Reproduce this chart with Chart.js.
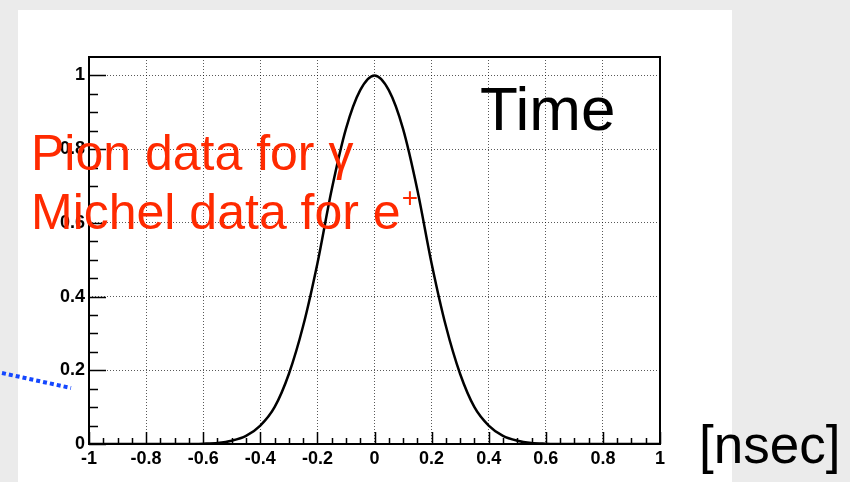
<!DOCTYPE html>
<html>
<head>
<meta charset="utf-8">
<script src="https://cdn.jsdelivr.net/npm/chart.js@4.4.1/dist/chart.umd.min.js"></script>
<style>
  html, body { margin: 0; padding: 0; }
  body { width: 850px; height: 482px; background: #ebebeb; position: relative; overflow: hidden; }
  #panel { position: absolute; left: 18px; top: 10px; width: 714px; height: 472px; background: #fff; }
  #chart { position: absolute; left: 0; top: 0; }
</style>
</head>
<body>
<div id="panel"></div>
<canvas id="chart" width="850" height="482"></canvas>
<script>
// time distribution (x in nsec)
const timeX = [-1, -0.95, -0.9, -0.85, -0.8, -0.75, -0.7, -0.65, -0.6, -0.55, -0.5, -0.45, -0.4, -0.35, -0.3, -0.25, -0.2, -0.15, -0.1, -0.05,
  0, 0.05, 0.1, 0.15, 0.2, 0.25, 0.3, 0.35, 0.4, 0.45, 0.5, 0.55, 0.6, 0.65, 0.7, 0.75, 0.8, 0.85, 0.9, 0.95, 1];
const timeY = [0, 0, 0, 0, 0, 0, 0, 0, 0.001, 0.003, 0.009, 0.022, 0.05, 0.10, 0.19, 0.32, 0.49, 0.69, 0.855, 0.96,
  1.0, 0.96, 0.855, 0.69, 0.49, 0.32, 0.19, 0.10, 0.05, 0.022, 0.009, 0.003, 0.001, 0, 0, 0, 0, 0, 0, 0, 0];

const xMin = -1, xMax = 1;
const yMin = 0, yMax = 1.05;
const minorStep = 0.05;   // minor tick spacing
const majorEvery = 0.2;   // labelled ticks + grid

const FONT = '"Liberation Sans", Arial, Helvetica, sans-serif';

const isMajor = (v) => Math.abs(v / majorEvery - Math.round(v / majorEvery)) < 1e-6;

const points = timeX.map((x, i) => ({ x: x, y: timeY[i] }));

// inward tick marks + frame, ROOT style
const frameAndTicks = {
  id: 'frameAndTicks',
  afterDatasetsDraw(chart) {
    const { ctx, chartArea: a, scales } = chart;
    ctx.save();
    ctx.strokeStyle = '#000';
    ctx.lineWidth = 1.5;
    ctx.beginPath();
    scales.x.ticks.forEach((t) => {
      const px = Math.round(scales.x.getPixelForValue(t.value)) + 0.5;
      const len = isMajor(t.value) ? 12 : 6;
      ctx.moveTo(px, a.bottom);
      ctx.lineTo(px, a.bottom - len);
    });
    scales.y.ticks.forEach((t) => {
      if (t.value > 1.0001) return;
      const py = Math.round(scales.y.getPixelForValue(t.value)) + 0.5;
      const len = isMajor(t.value) ? 17 : 9;
      ctx.moveTo(a.left, py);
      ctx.lineTo(a.left + len, py);
    });
    ctx.stroke();
    ctx.lineWidth = 2;
    ctx.strokeRect(a.left, a.top, a.right - a.left, a.bottom - a.top);
    ctx.restore();
  }
};

// slide annotations drawn on top
const overlay = {
  id: 'overlay',
  afterDraw(chart) {
    const ctx = chart.ctx;
    ctx.save();
    ctx.textBaseline = 'alphabetic';
    ctx.fillStyle = '#000';
    ctx.font = '62px ' + FONT;
    ctx.fillText('Time', 480, 130);
    ctx.font = '53px ' + FONT;
    ctx.fillText('[nsec]', 699, 463);

    ctx.fillStyle = '#ff2a00';
    ctx.font = '50px ' + FONT;
    ctx.fillText('Pion data for \u03b3', 31, 170);
    ctx.fillText('Michel data for e', 31, 229);
    const w = ctx.measureText('Michel data for e').width;
    ctx.font = '28px ' + FONT;
    ctx.fillText('+', 31 + w + 1, 207);

    // blue dotted pointer
    ctx.strokeStyle = '#1447ff';
    ctx.lineWidth = 4;
    ctx.setLineDash([4, 3]);
    ctx.beginPath();
    ctx.moveTo(2, 373);
    ctx.lineTo(71, 388);
    ctx.stroke();
    ctx.restore();
  }
};

const gridColor = (c) => (c.tick && isMajor(c.tick.value)) ? 'rgba(0,0,0,0.65)' : 'rgba(0,0,0,0)';

new Chart(document.getElementById('chart'), {
  type: 'line',
  data: {
    datasets: [{
      data: points,
      borderColor: '#000',
      borderWidth: 2.5,
      pointRadius: 0,
      fill: false,
      cubicInterpolationMode: 'monotone'
    }]
  },
  options: {
    responsive: false,
    animation: false,
    devicePixelRatio: 1,
    layout: { padding: { left: 50, right: 190, top: 57, bottom: 0 } },
    plugins: { legend: { display: false }, tooltip: { enabled: false } },
    scales: {
      x: {
        type: 'linear',
        min: xMin,
        max: xMax,
        afterFit: (s) => { s.height = 38; },
        grid: { color: gridColor, lineWidth: 1, drawTicks: false, borderDash: [1, 2] },
        border: { display: false, dash: [1, 2] },
        ticks: {
          stepSize: minorStep,
          autoSkip: false,
          maxRotation: 0,
          padding: 4,
          color: '#000',
          font: { family: FONT, size: 18, weight: 'bold' },
          callback: (v) => isMajor(v) ? String(Math.round(v * 10) / 10) : ''
        }
      },
      y: {
        type: 'linear',
        min: yMin,
        max: yMax,
        afterFit: (s) => { s.width = 39; },
        grid: { color: gridColor, lineWidth: 1, drawTicks: false, borderDash: [1, 2] },
        border: { display: false, dash: [1, 2] },
        ticks: {
          stepSize: minorStep,
          autoSkip: false,
          padding: 4,
          color: '#000',
          font: { family: FONT, size: 18, weight: 'bold' },
          callback: (v) => (isMajor(v) && v < 1.0001) ? String(Math.round(v * 10) / 10) : ''
        }
      }
    }
  },
  plugins: [frameAndTicks, overlay]
});
</script>
</body>
</html>
